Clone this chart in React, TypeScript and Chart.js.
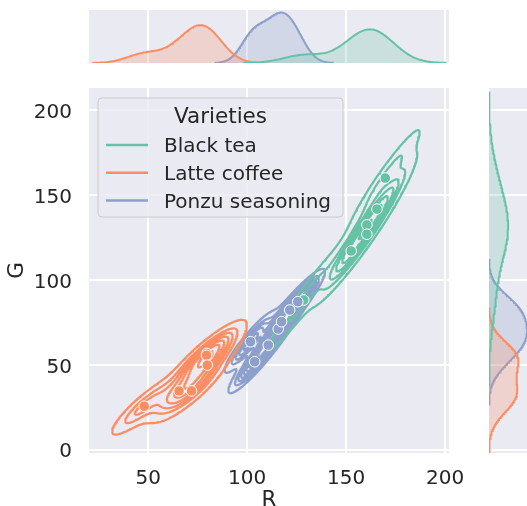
import React, { useEffect, useRef } from 'react';
import { Chart, registerables } from 'chart.js';

Chart.register(...registerables);

// ---------------- data ----------------
const VARIETIES = ['Black tea', 'Latte coffee', 'Ponzu seasoning'];
const LEGEND_TITLE = 'Varieties';
const X_LABEL = 'R';
const Y_LABEL = 'G';

const BLACK_TEA_R = [169.8, 165.6, 160.5, 160.5, 152.6, 128.6];
const BLACK_TEA_G = [160.1, 141.8, 132.5, 127.0, 117.1, 88.2];
const LATTE_COFFEE_R = [48.0, 65.6, 71.9, 79.6, 79.5, 79.9];
const LATTE_COFFEE_G = [25.6, 34.6, 34.6, 56.7, 55.6, 49.8];
const PONZU_SEASONING_R = [101.7, 103.8, 110.7, 115.7, 117.4, 121.5, 125.6];
const PONZU_SEASONING_G = [63.6, 51.8, 61.6, 71.1, 75.4, 82.3, 87.2];

const X_TICKS = [50, 100, 150, 200];
const Y_TICKS = [0, 50, 100, 150, 200];
const X_RANGE = [20.1, 202.0];
const Y_RANGE = [-2.0, 213.2];

// seaborn kdeplot defaults
const KDE_LEVELS = 10;
const KDE_THRESH = 0.05;
const KDE_GRID = 200;
const KDE_CUT = 3;

// ---------------- styles / layout ----------------
const COLORS = ['#66c2a5', '#fc8d62', '#8da0cb'];
const FILLS = ['rgba(102,194,165,0.25)', 'rgba(252,141,98,0.25)', 'rgba(141,160,203,0.25)'];
const BG = '#EAEAF2';
const TEXT = '#262626';
const FONT = 'DejaVu Sans';
const W = 527;
const H = 506;
const MAIN = { left: 89, top: 88, right: 449, bottom: 453 };
const TOPM = { top: 10, bottom: 63 };
const RIGHTM = { left: 489, right: 529 };
const RIGHT_CANVAS_W = 540;

const GROUPS = [
  { r: BLACK_TEA_R, g: BLACK_TEA_G },
  { r: LATTE_COFFEE_R, g: LATTE_COFFEE_G },
  { r: PONZU_SEASONING_R, g: PONZU_SEASONING_G },
];

// ---------------- KDE helpers (scipy gaussian_kde, Scott's rule) ----------------
type P = { x: number; y: number };

function mean(a: number[]) {
  return a.reduce((s, v) => s + v, 0) / a.length;
}
function cov(a: number[], b: number[]) {
  const ma = mean(a), mb = mean(b);
  let s = 0;
  for (let i = 0; i < a.length; i++) s += (a[i] - ma) * (b[i] - mb);
  return s / (a.length - 1);
}

function kde1d(vals: number[], weight: number) {
  const n = vals.length;
  const f = Math.pow(n, -1 / 5);
  const bw = Math.sqrt(cov(vals, vals)) * f;
  const lo = Math.min(...vals) - KDE_CUT * bw;
  const hi = Math.max(...vals) + KDE_CUT * bw;
  const grid: number[] = [];
  const dens: number[] = [];
  const norm = weight / (n * bw * Math.sqrt(2 * Math.PI));
  for (let k = 0; k < KDE_GRID; k++) {
    const x = lo + ((hi - lo) * k) / (KDE_GRID - 1);
    let s = 0;
    for (const v of vals) {
      const u = (x - v) / bw;
      s += Math.exp(-0.5 * u * u);
    }
    grid.push(x);
    dens.push(s * norm);
  }
  return { grid, dens };
}

function kde2d(xs: number[], ys: number[], weight: number) {
  const n = xs.length;
  const f2 = Math.pow(n, -2 / 6);
  const kxx = cov(xs, xs) * f2, kyy = cov(ys, ys) * f2, kxy = cov(xs, ys) * f2;
  const det = kxx * kyy - kxy * kxy;
  const ixx = kyy / det, iyy = kxx / det, ixy = -kxy / det;
  const norm = weight / (2 * Math.PI * Math.sqrt(det) * n);
  const bx = Math.sqrt(kxx), by = Math.sqrt(kyy);
  const x0 = Math.min(...xs) - KDE_CUT * bx, x1 = Math.max(...xs) + KDE_CUT * bx;
  const y0 = Math.min(...ys) - KDE_CUT * by, y1 = Math.max(...ys) + KDE_CUT * by;
  const gx: number[] = [], gy: number[] = [];
  for (let k = 0; k < KDE_GRID; k++) {
    gx.push(x0 + ((x1 - x0) * k) / (KDE_GRID - 1));
    gy.push(y0 + ((y1 - y0) * k) / (KDE_GRID - 1));
  }
  const z = new Float64Array(KDE_GRID * KDE_GRID);
  for (let j = 0; j < KDE_GRID; j++) {
    for (let i = 0; i < KDE_GRID; i++) {
      let s = 0;
      for (let p = 0; p < n; p++) {
        const dx = gx[i] - xs[p], dy = gy[j] - ys[p];
        s += Math.exp(-0.5 * (dx * dx * ixx + 2 * dx * dy * ixy + dy * dy * iyy));
      }
      z[j * KDE_GRID + i] = s * norm;
    }
  }
  return { gx, gy, z };
}

function quantileLevels(all: Float64Array) {
  const sorted = Float64Array.from(all).sort().reverse();
  let total = 0;
  for (const v of sorted) total += v;
  const cum = new Float64Array(sorted.length);
  let acc = 0;
  for (let i = 0; i < sorted.length; i++) {
    acc += sorted[i];
    cum[i] = acc / total;
  }
  const levels: number[] = [];
  for (let k = 0; k < KDE_LEVELS; k++) {
    const iso = KDE_THRESH + ((1 - KDE_THRESH) * k) / (KDE_LEVELS - 1);
    const target = 1 - iso;
    let lo = 0, hi = cum.length;
    while (lo < hi) {
      const mid = (lo + hi) >> 1;
      if (cum[mid] < target) lo = mid + 1;
      else hi = mid;
    }
    levels.push(sorted[Math.min(lo, sorted.length - 1)]);
  }
  return levels;
}

function contourLines(gx: number[], gy: number[], z: Float64Array, level: number): P[][] {
  const nx = gx.length, ny = gy.length;
  const A: number[] = [], B: number[] = [];
  const hid = (i: number, j: number) => (j * nx + i) * 2;
  const vid = (i: number, j: number) => (j * nx + i) * 2 + 1;
  const add = (a: number, b: number) => { A.push(a); B.push(b); };
  for (let j = 0; j < ny - 1; j++) {
    for (let i = 0; i < nx - 1; i++) {
      const v0 = z[j * nx + i], v1 = z[j * nx + i + 1];
      const v2 = z[(j + 1) * nx + i + 1], v3 = z[(j + 1) * nx + i];
      const c = (v0 > level ? 1 : 0) | (v1 > level ? 2 : 0) | (v2 > level ? 4 : 0) | (v3 > level ? 8 : 0);
      if (c === 0 || c === 15) continue;
      const Bo = hid(i, j), R = vid(i + 1, j), T = hid(i, j + 1), L = vid(i, j);
      const ctr = (v0 + v1 + v2 + v3) / 4;
      switch (c) {
        case 1: case 14: add(L, Bo); break;
        case 2: case 13: add(Bo, R); break;
        case 3: case 12: add(L, R); break;
        case 4: case 11: add(R, T); break;
        case 6: case 9: add(Bo, T); break;
        case 7: case 8: add(L, T); break;
        case 5:
          if (ctr > level) { add(Bo, R); add(L, T); } else { add(L, Bo); add(R, T); }
          break;
        case 10:
          if (ctr > level) { add(L, Bo); add(R, T); } else { add(Bo, R); add(L, T); }
          break;
      }
    }
  }
  const pt = (id: number): P => {
    const k = id >> 1;
    const i = k % nx, j = (k - i) / nx;
    if ((id & 1) === 0) {
      const a = z[j * nx + i], b = z[j * nx + i + 1];
      const t = (level - a) / (b - a);
      return { x: gx[i] + t * (gx[i + 1] - gx[i]), y: gy[j] };
    }
    const a = z[j * nx + i], b = z[(j + 1) * nx + i];
    const t = (level - a) / (b - a);
    return { x: gx[i], y: gy[j] + t * (gy[j + 1] - gy[j]) };
  };
  const adj = new Map<number, number[]>();
  for (let s = 0; s < A.length; s++) {
    for (const e of [A[s], B[s]]) {
      const l = adj.get(e);
      if (l) l.push(s); else adj.set(e, [s]);
    }
  }
  const used = new Uint8Array(A.length);
  const walk = (start: number) => {
    const out: number[] = [];
    let cur = start;
    for (;;) {
      const l = adj.get(cur) || [];
      let nxt = -1;
      for (const s of l) if (!used[s]) { nxt = s; break; }
      if (nxt < 0) break;
      used[nxt] = 1;
      const other = A[nxt] === cur ? B[nxt] : A[nxt];
      out.push(other);
      cur = other;
    }
    return out;
  };
  const lines: P[][] = [];
  for (let s = 0; s < A.length; s++) {
    if (used[s]) continue;
    used[s] = 1;
    const fwd = walk(B[s]);
    const back = walk(A[s]);
    const ids = back.reverse().concat([A[s], B[s]], fwd);
    lines.push(ids.map(pt));
  }
  return lines;
}

// ---------------- plugins ----------------
const bgPlugin = {
  id: 'plotBg',
  beforeDraw(chart: any) {
    const { ctx, chartArea: a } = chart;
    ctx.save();
    ctx.fillStyle = BG;
    ctx.fillRect(a.left, a.top, a.right - a.left, a.bottom - a.top);
    ctx.restore();
  },
};

const legendPlugin = {
  id: 'boxLegend',
  afterDraw(chart: any) {
    const ctx = chart.ctx as CanvasRenderingContext2D;
    const x = 98, y = 98, w = 245, h = 119, r = 4;
    ctx.save();
    ctx.beginPath();
    ctx.moveTo(x + r, y);
    ctx.lineTo(x + w - r, y);
    ctx.arcTo(x + w, y, x + w, y + r, r);
    ctx.lineTo(x + w, y + h - r);
    ctx.arcTo(x + w, y + h, x + w - r, y + h, r);
    ctx.lineTo(x + r, y + h);
    ctx.arcTo(x, y + h, x, y + h - r, r);
    ctx.lineTo(x, y + r);
    ctx.arcTo(x, y, x + r, y, r);
    ctx.closePath();
    ctx.fillStyle = 'rgba(234,234,242,0.8)';
    ctx.fill();
    ctx.strokeStyle = '#cccccc';
    ctx.lineWidth = 1;
    ctx.stroke();
    ctx.fillStyle = TEXT;
    ctx.textBaseline = 'middle';
    ctx.textAlign = 'center';
    ctx.font = `21.5px "${FONT}"`;
    ctx.fillText(LEGEND_TITLE, 220.5, 117.5);
    ctx.textAlign = 'left';
    ctx.font = `20px "${FONT}"`;
    VARIETIES.forEach((name, i) => {
      const yy = 145 + i * 27.8;
      ctx.strokeStyle = COLORS[i];
      ctx.lineWidth = 2.5;
      ctx.beginPath();
      ctx.moveTo(106, yy);
      ctx.lineTo(148, yy);
      ctx.stroke();
      ctx.fillStyle = TEXT;
      ctx.fillText(name, 164, yy + 2);
    });
    ctx.restore();
  },
};

const gridOpts = { color: '#ffffff', lineWidth: 2, drawTicks: false };

export default function App() {
  const mainRef = useRef<HTMLCanvasElement>(null);
  const topRef = useRef<HTMLCanvasElement>(null);
  const rightRef = useRef<HTMLCanvasElement>(null);

  useEffect(() => {
    const N = GROUPS.reduce((s, g) => s + g.r.length, 0);

    // bivariate densities with common norm and common levels
    const dens2 = GROUPS.map((g) => kde2d(g.r, g.g, g.r.length / N));
    const all = new Float64Array(dens2.length * KDE_GRID * KDE_GRID);
    dens2.forEach((d, k) => all.set(d.z, k * KDE_GRID * KDE_GRID));
    const levels = quantileLevels(all);

    const contourSets = dens2.map((d, gi) => {
      const data: P[] = [];
      for (const lv of levels) {
        for (const line of contourLines(d.gx, d.gy, d.z, lv)) {
          for (const p of line) data.push(p);
          data.push({ x: NaN, y: NaN });
        }
      }
      return {
        label: VARIETIES[gi] + ' kde',
        data,
        showLine: true,
        pointRadius: 0,
        borderColor: COLORS[gi],
        borderWidth: 2.2,
        borderJoinStyle: 'round',
        fill: false,
        spanGaps: false,
        order: 10 + gi,
      };
    });
    const pointSets = GROUPS.map((g, gi) => ({
      label: VARIETIES[gi],
      data: g.r.map((r, i) => ({ x: r, y: g.g[i] })),
      showLine: false,
      pointRadius: 5.3,
      backgroundColor: COLORS[gi],
      borderColor: '#ffffff',
      borderWidth: 1,
      order: 2 - gi,
    }));

    const tickFont = { family: FONT, size: 20 };
    const common = {
      responsive: false,
      animation: false,
      devicePixelRatio: 1,
      events: [],
      plugins: { legend: { display: false }, tooltip: { enabled: false } },
    };

    const main = new Chart(mainRef.current!, {
      type: 'scatter',
      data: { datasets: [...contourSets, ...pointSets] as any },
      options: {
        ...common,
        layout: { padding: { left: 0, top: MAIN.top, right: W - MAIN.right, bottom: 0 } },
        scales: {
          x: {
            type: 'linear',
            min: X_RANGE[0],
            max: X_RANGE[1],
            afterBuildTicks: (s: any) => { s.ticks = X_TICKS.map((v) => ({ value: v })); },
            afterFit: (s: any) => { s.height = H - MAIN.bottom; },
            grid: gridOpts,
            border: { display: false },
            ticks: { font: tickFont, color: TEXT, padding: 13.5, maxRotation: 0 },
            title: {
              display: true,
              text: X_LABEL,
              color: TEXT,
              font: { family: FONT, size: 21.5, lineHeight: '12px' },
              padding: { top: 0, bottom: 0 },
            },
          },
          y: {
            type: 'linear',
            min: Y_RANGE[0],
            max: Y_RANGE[1],
            afterBuildTicks: (s: any) => { s.ticks = Y_TICKS.map((v) => ({ value: v })); },
            afterFit: (s: any) => { s.width = MAIN.left; },
            grid: gridOpts,
            border: { display: false },
            ticks: { font: tickFont, color: TEXT, padding: 17, labelOffset: 2.5 },
            title: {
              display: true,
              text: Y_LABEL,
              color: TEXT,
              font: { family: FONT, size: 21.5 },
              padding: { top: 4.4, bottom: 0 },
            },
          },
        },
      } as any,
      plugins: [bgPlugin, legendPlugin],
    });

    // marginal densities (common norm)
    const margX = GROUPS.map((g) => kde1d(g.r, g.r.length / N));
    const margY = GROUPS.map((g) => kde1d(g.g, g.g.length / N));
    const maxX = Math.max(...margX.map((m) => Math.max(...m.dens)));
    const maxY = Math.max(...margY.map((m) => Math.max(...m.dens)));

    const top = new Chart(topRef.current!, {
      type: 'scatter',
      data: {
        datasets: margX.map((m, gi) => ({
          label: VARIETIES[gi],
          data: m.grid.map((x, k) => ({ x, y: m.dens[k] })),
          showLine: true,
          pointRadius: 0,
          borderColor: COLORS[gi],
          backgroundColor: FILLS[gi],
          borderWidth: 2,
          fill: 'origin',
          order: gi,
        })) as any,
      },
      options: {
        ...common,
        layout: { padding: { left: MAIN.left, top: TOPM.top, right: W - MAIN.right, bottom: H - TOPM.bottom } },
        scales: {
          x: {
            type: 'linear',
            min: X_RANGE[0],
            max: X_RANGE[1],
            afterBuildTicks: (s: any) => { s.ticks = X_TICKS.map((v) => ({ value: v })); },
            afterFit: (s: any) => { s.height = 0; },
            grid: gridOpts,
            border: { display: false },
            ticks: { display: false },
          },
          y: { type: 'linear', min: 0, max: maxX * 1.05, display: false },
        },
      } as any,
      plugins: [bgPlugin],
    });

    const right = new Chart(rightRef.current!, {
      type: 'line',
      data: {
        datasets: margY.map((m, gi) => ({
          label: VARIETIES[gi],
          data: m.grid.map((g, k) => ({ x: m.dens[k], y: g })),
          pointRadius: 0,
          borderColor: COLORS[gi],
          backgroundColor: FILLS[gi],
          borderWidth: 2,
          fill: 'origin',
          order: gi,
        })) as any,
      },
      options: {
        ...common,
        indexAxis: 'y',
        layout: {
          padding: { left: RIGHTM.left, top: MAIN.top, right: RIGHT_CANVAS_W - RIGHTM.right, bottom: H - MAIN.bottom },
        },
        scales: {
          y: {
            type: 'linear',
            min: Y_RANGE[0],
            max: Y_RANGE[1],
            afterBuildTicks: (s: any) => { s.ticks = Y_TICKS.map((v) => ({ value: v })); },
            afterFit: (s: any) => { s.width = 0; },
            grid: gridOpts,
            border: { display: false },
            ticks: { display: false },
          },
          x: { type: 'linear', min: 0, max: maxY * 1.05, display: false },
        },
      } as any,
      plugins: [bgPlugin],
    });

    return () => {
      main.destroy();
      top.destroy();
      right.destroy();
    };
  }, []);

  const abs: React.CSSProperties = { position: 'absolute', left: 0, top: 0 };
  return (
    <div style={{ position: 'fixed', left: 0, top: 0, width: W, height: H, overflow: 'hidden', background: '#ffffff' }}>
      <canvas ref={topRef} width={W} height={H} style={abs} />
      <canvas ref={rightRef} width={RIGHT_CANVAS_W} height={H} style={abs} />
      <canvas ref={mainRef} width={W} height={H} style={abs} />
    </div>
  );
}
